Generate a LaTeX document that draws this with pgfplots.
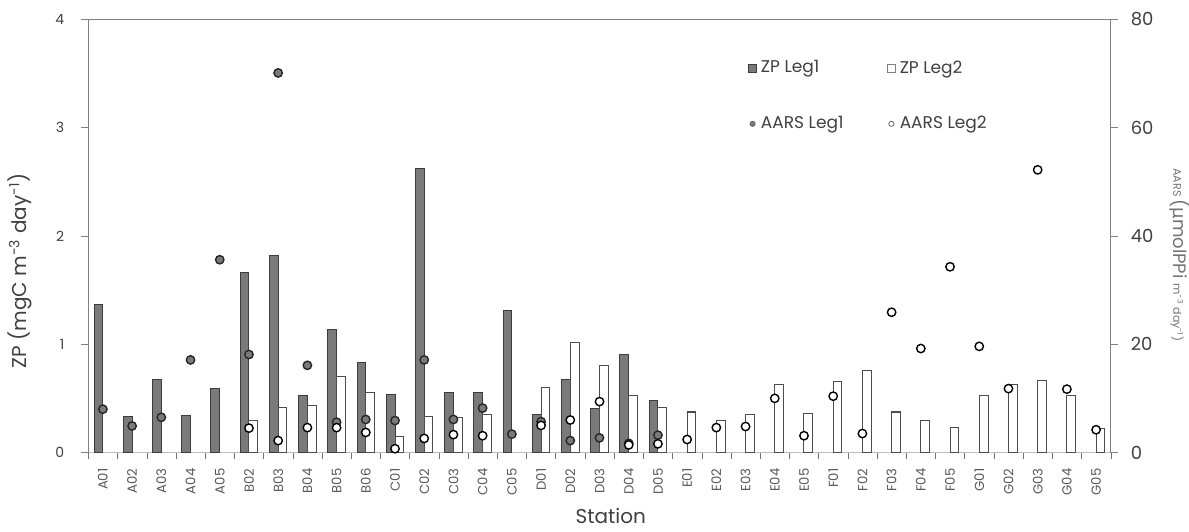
\documentclass[border=0pt]{standalone}
\usepackage{fontspec}
\setmainfont{Poppins}
\newfontfamily\dv{DejaVu Sans}
\usepackage{pgfplots}
\pgfplotsset{compat=1.18}
\definecolor{barD}{HTML}{7A7A7A}
\definecolor{barDe}{HTML}{3C3C3C}
\definecolor{txt}{HTML}{404040}
\begin{document}
\begin{tikzpicture}
\path[use as bounding box] (-44.15pt,-39.25pt) rectangle (550.35pt,226.25pt);
\begin{axis}[
  scale only axis, width=511.2pt, height=216.6pt,
  xmin=-0.5, xmax=34.5, ymin=0, ymax=4,
  axis x line*=bottom, axis y line*=left, axis line style={-},
  x axis line style={black!25}, y axis line style={black!50},
  xtick={0,...,34},
  xticklabels={A01,A02,A03,A04,A05,B02,B03,B04,B05,B06,C01,C02,C03,C04,C05,D01,D02,D03,D04,D05,E01,E02,E03,E04,E05,F01,F02,F03,F04,F05,G01,G02,G03,G04,G05},
  major x tick style={draw=none},
  minor xtick={-0.5,0.5,...,34.5},
  minor x tick style={black!55},
  y tick style={black!50},
  tick align=outside, major tick length=3.5pt, minor tick length=3pt,
  xticklabel style={rotate=90, anchor=east, font=\fontsize{6.6}{7.5}\selectfont, text=black!65, xshift=-1pt},
  ytick={0,1,2,3,4},
  yticklabel style={font=\fontsize{7}{8}\selectfont, text=txt, xshift=-5pt},
  /pgf/number format/assume math mode=true,
  clip=false,
]
\addplot[ybar, bar width=0.3, bar shift=-0.15, fill=barD, draw=barDe, line width=0.5pt] coordinates {
(0,1.37) (1,0.33) (2,0.67) (3,0.34) (4,0.59) (5,1.66) (6,1.82) (7,0.525) (8,1.14) (9,0.83)
(10,0.537) (11,2.62) (12,0.556) (13,0.556) (14,1.313) (15,0.355) (16,0.676) (17,0.402) (18,0.903) (19,0.476)};
\addplot[ybar, bar width=0.3, bar shift=0.15, fill=white, draw=black!70, line width=0.5pt] coordinates {
(5,0.30) (6,0.42) (7,0.436) (8,0.70) (9,0.556) (10,0.15) (11,0.334) (12,0.321) (13,0.349)
(15,0.598) (16,1.017) (17,0.805) (18,0.525) (19,0.417)
(20,0.374) (21,0.297) (22,0.349) (23,0.626) (24,0.362) (25,0.654) (26,0.755) (27,0.374) (28,0.30) (29,0.233)
(30,0.525) (31,0.626) (32,0.667) (33,0.525) (34,0.226)};
\node[rotate=90, text=txt, font=\fontsize{10}{12}\selectfont] at (rel axis cs:-0.0668,0.42) {ZP (mgC m\textsuperscript{-3} day\textsuperscript{-1})};
\node[text=txt, font=\fontsize{10}{12}\selectfont] at (rel axis cs:0.511,-0.147) {Station};
\end{axis}
\begin{axis}[
  scale only axis, width=511.2pt, height=216.6pt,
  xmin=-0.5, xmax=34.5, ymin=0, ymax=80,
  axis y line*=right, axis x line*=top, axis line style={-},
  x axis line style={black!50}, y axis line style={black!50},
  xtick=\empty, ytick={0,20,40,60,80},
  y tick style={black!50},
  tick align=outside, major tick length=3.5pt,
  yticklabel style={font=\fontsize{9}{10}\selectfont, text=txt, xshift=3pt},
  /pgf/number format/assume math mode=true,
  clip=false,
  legend columns=2,
  legend style={at={(axis description cs:0.645,0.915)}, anchor=north west, draw=none, fill=none,
    inner sep=0pt, row sep=16pt, font=\fontsize{8.5}{10}\selectfont, text=txt, cells={anchor=west}},
]
\addlegendimage{legend image code/.code={\draw[fill=barD, draw=barDe, line width=0.4pt] (0pt,-2pt) rectangle (4pt,2pt);}}
\addlegendentry{\makebox[61pt][l]{ZP Leg1}}
\addlegendimage{legend image code/.code={\draw[fill=white, draw=black!50, line width=0.4pt] (0pt,-2pt) rectangle (4pt,2pt);}}
\addlegendentry{ZP Leg2}
\addplot[only marks, mark=*, mark size=2.1pt, mark options={fill=barD, draw=black!85, line width=0.7pt},
  legend image code/.code={\draw[fill=barD, draw=black!60, line width=0.4pt] (2pt,0pt) circle (1.3pt);}] coordinates {
(0,8.0) (1,4.9) (2,6.5) (3,17.1) (4,35.6) (5,18.1) (6,70.1) (7,16.1) (8,5.6) (9,6.1)
(10,5.9) (11,17.1) (12,6.1) (13,8.2) (14,3.4) (15,5.7) (16,2.2) (17,2.7) (18,1.7) (19,3.2)};
\addlegendentry{\makebox[61pt][l]{AARS Leg1}}
\addplot[only marks, mark=*, mark size=2.1pt, mark options={fill=white, draw=black, line width=0.7pt},
  legend image code/.code={\draw[fill=white, draw=black!60, line width=0.4pt] (2pt,0pt) circle (1.3pt);}] coordinates {
(5,4.5) (6,2.2) (7,4.6) (8,4.6) (9,3.7) (10,0.7) (11,2.6) (12,3.3) (13,3.1)
(15,5.0) (16,6.0) (17,9.4) (18,1.4) (19,1.6)
(20,2.4) (21,4.6) (22,4.8) (23,10.0) (24,3.1) (25,10.4) (26,3.5) (27,25.9) (28,19.2) (29,34.3)
(30,19.6) (31,11.8) (32,52.2) (33,11.7) (34,4.2)};
\addlegendentry{AARS Leg2}
\node[rotate=-90, text=black!55] at (rel axis cs:1.0678,0.456) {\fontsize{5.5}{6}\selectfont AARS \fontsize{9}{10}\selectfont({\dv µ}molPPi \fontsize{5.5}{6}\selectfont m\textsuperscript{-3} day\textsuperscript{-1})};
\end{axis}
\end{tikzpicture}
\end{document}
